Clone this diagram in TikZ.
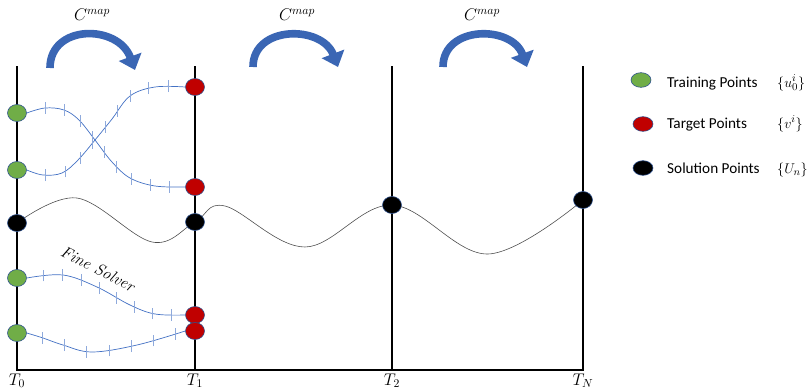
\documentclass[tikz,border=0pt]{standalone}
\usepackage{fontspec}
\newfontfamily\legendfont{Carlito}
\usetikzlibrary{shapes.geometric, arrows.meta, decorations.markings}
\definecolor{ptgreen}{HTML}{70AD47}
\definecolor{ptred}{HTML}{C00000}
\definecolor{ptedge}{HTML}{2F528F}
\definecolor{fineblue}{HTML}{4472C4}
\definecolor{tickblue}{HTML}{8FAADC}
\definecolor{mapblue}{HTML}{3A66B4}
\pgfdeclarelayer{bg}
\pgfsetlayers{bg,main}

\begin{document}
\begin{tikzpicture}[x=0.03cm, y=-0.03cm,
  pt/.style={ellipse, draw=ptedge, line width=0.5pt, minimum width=0.57cm, minimum height=0.51cm, inner sep=0pt},
  legpt/.style={pt, minimum width=0.6cm, minimum height=0.44cm},
  axis/.style={line width=2.4pt, line cap=rect},
  solcurve/.style={black!70, line width=0.5pt},
  fine/.style 2 args={fineblue, line width=0.6pt, postaction={decorate},
    decoration={markings, mark=between positions #1 and 0.95 step #2 with
      {\pgftransformresetnontranslations \draw[tickblue, line width=0.6pt] (0,-5pt) -- (0,5pt);}}},
  maparrow/.style={mapblue, line width=6.5pt, -{Triangle[width=20pt, length=12pt]}},
  legtext/.style={font=\legendfont\fontsize{13}{15}\selectfont, anchor=base west, inner sep=0pt},
  legmath/.style={font=\fontsize{13}{15}\selectfont, anchor=base west, inner sep=0pt}]
  \useasboundingbox (0,0) rectangle (811,391);

  % time slices
  \foreach \x/\lab/\nm in {17/0/t0, 195/1/t1, 392/2/t2, 583/N/tN} {
    \draw[axis] (\x,67) -- (\x,370);
    \node[anchor=base, font=\Large, inner sep=0pt] (\nm) at (\x,385) {$T_{\lab}$};
  }
  \draw[axis] (17,370) -- (583,370);

  % coarse map arrows
  \node[font=\Large] (cm1) at (92,15) {$C^{map}$};
  \node[font=\Large] (cm2) at (297,15) {$C^{map}$};
  \node[font=\Large] (cm3) at (482,15) {$C^{map}$};
  \draw[maparrow] (50,68) .. controls (50,24) and (118,24) .. (135,70);
  \draw[maparrow] (253,67) .. controls (253,25) and (322,25) .. (338,67);
  \draw[maparrow] (443,67) .. controls (443,25) and (512,25) .. (527,67);

  % points
  \node[pt, fill=ptgreen] (g1) at (17,113) {};
  \node[pt, fill=ptgreen] (g2) at (17,170) {};
  \node[pt, fill=ptgreen] (g3) at (17,278) {};
  \node[pt, fill=ptgreen] (g4) at (17,333) {};
  \node[pt, fill=ptred] (r1) at (195,87) {};
  \node[pt, fill=ptred] (r2) at (195,187) {};
  \node[pt, fill=ptred] (r3) at (195,315) {};
  \node[pt, fill=ptred] (r4) at (195,331) {};
  \node[pt, fill=black] (s0) at (17,223) {};
  \node[pt, fill=black] (s1) at (195,222) {};
  \node[pt, fill=black] (s2) at (392,205) {};
  \node[pt, fill=black] (sN) at (583,200) {};

  % fine solver trajectories
  \draw[fine={0.1}{0.102}] plot[smooth, tension=0.6] coordinates {(g1.east) (45,108) (64,110) (79,120) (95,140) (112,162) (130,178) (155,186) (r2.west)};
  \draw[fine={0.1}{0.102}] plot[smooth, tension=0.6] coordinates {(g2.east) (43,175) (62,173) (78,160) (95,140) (112,119) (130,96) (155,87) (r1.west)};
  \draw[fine={0.1}{0.117}] plot[smooth, tension=0.6] coordinates {(g3.east) (63,275) (97,287) (130,305) (155,314) (r3.west)};
  \draw[fine={0.1}{0.14}] plot[smooth, tension=0.6] coordinates {(g4.east) (43,338) (63,345) (92,352) (137,345) (r4.west)};
  \node[rotate=-27, font=\fontsize{14}{16}\selectfont\itshape] (fs) at (98,269) {Fine Solver};

  % solution path
  \begin{pgfonlayer}{bg}
    \draw[solcurve] plot[smooth, tension=0.6] coordinates {(s0.center) (77,198) (152,242) (s1.center) (225,206) (305,247) (s2.center) (488,254) (sN.center)};
  \end{pgfonlayer}

  % legend
  \node[legpt, fill=ptgreen] (lg) at (641,80) {};
  \node[legpt, fill=ptred] (lr) at (643,124) {};
  \node[legpt, fill=black] (lb) at (643,168) {};
  \node[legtext] (lgt) at (667,87) {Training Points};
  \node[legtext] (lrt) at (667,128) {Target Points};
  \node[legtext] (lbt) at (667,173) {Solution Points};
  \node[legmath] (lgm) at (777,87) {$\{u_0^i\}$};
  \node[legmath] (lrm) at (777,128) {$\{v^i\}$};
  \node[legmath] (lbm) at (777,173) {$\{U_n\}$};
\end{tikzpicture}
\end{document}
